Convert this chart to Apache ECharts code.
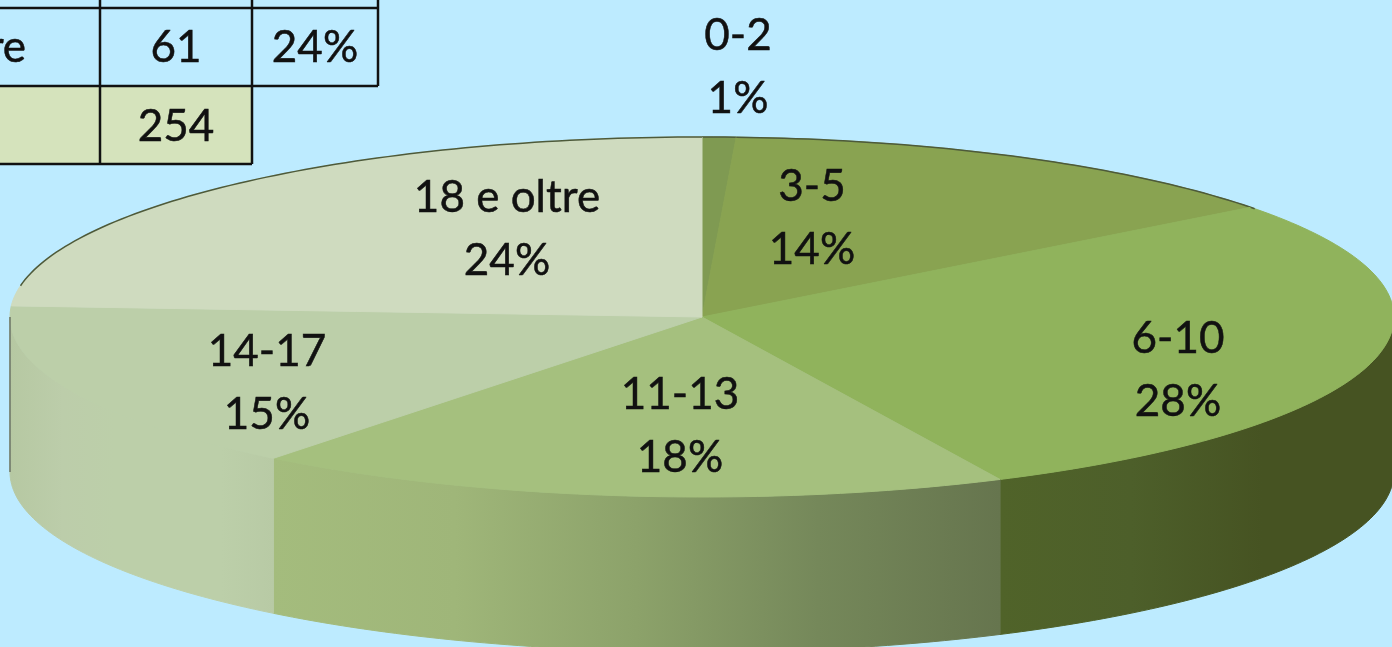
<!DOCTYPE html>
<html>
<head>
<meta charset="utf-8">
<style>
  html, body { margin: 0; padding: 0; background: #bdebff; overflow: hidden; }
  #chart { width: 1392px; height: 647px; }
</style>
</head>
<body>
<div id="chart"></div>
<script src="https://cdn.jsdelivr.net/npm/echarts@6/dist/echarts.min.js"></script>
<script>
// valori: conteggi stimati, coerenti con le percentuali e col totale 254
const ageGroups = ['0-2', '3-5', '6-10', '11-13', '14-17', '18 e oltre']
const counts = [2, 35, 72, 45, 39, 61]
const tableLastRow = ['18 e oltre', '61', '24%']
const tableTotal = '254'

const topColors = ['#7f9a52', '#89a351', '#90b35c', '#a5c07e', '#bccfa9', '#cfdbbf']
const sideColors = [
  ['#6f8745', '#6f8745'],
  ['#75893f', '#75893f'],
  ['#506329', '#4d5f2a', '#465322', '#465322'],
  ['#a4bc7d', '#9fb679', '#8ca26a', '#75885a', '#66754e'],
  ['#b6c8a2', '#bccdaa', '#bccfa9', '#bccfa9', '#bccfa9', '#b8caa5'],
  ['#b5c79f', '#b5c79f']
]

// geometria della torta
const cx = 702
const cy = 317
const rx = 692
const ry = 180
const depth = 155
const font = '44px Lato, "Open Sans", sans-serif'
const labelCenters = [[738, 67], [812, 218], [1178, 370], [680, 426], [267, 383], [507, 229]]

const total = counts.reduce((a, b) => a + b, 0)
const rimPoint = (deg, dy = 0) => {
  const a = deg * Math.PI / 180
  return [cx + rx * Math.sin(a), cy - ry * Math.cos(a) + dy]
}
const arcPoints = (from, to, dy = 0) => {
  const pts = []
  const steps = Math.max(2, Math.ceil(Math.abs(to - from)))
  for (let i = 0; i <= steps; i++) pts.push(rimPoint(from + (to - from) * i / steps, dy))
  return pts
}

const renderSlice = (params, api) => {
  const i = params.dataIndex
  const before = counts.slice(0, i).reduce((a, b) => a + b, 0)
  const start = before / total * 360
  const end = start + api.value(0) / total * 360
  const children = []

  // parete laterale, solo la metà davanti
  const wallFrom = Math.max(start, 90)
  const wallTo = Math.min(end, 270)
  if (wallFrom < wallTo) {
    const upper = arcPoints(wallFrom, wallTo)
    const lower = arcPoints(wallTo, wallFrom, depth)
    const xs = upper.map(p => p[0])
    // i colori vanno sempre da sinistra a destra
    const stops = sideColors[i].map((color, k, list) => ({ offset: k / (list.length - 1), color }))
    const wallFill = {
      type: 'linear',
      x: Math.min(...xs),
      y: 0,
      x2: Math.max(...xs),
      y2: 0,
      global: true,
      colorStops: stops
    }
    children.push({
      type: 'polygon',
      shape: { points: upper.concat(lower) },
      style: { fill: wallFill, stroke: wallFill, lineWidth: 1 }
    })
  }

  // faccia superiore
  children.push({
    type: 'polygon',
    shape: { points: [[cx, cy]].concat(arcPoints(start, end)) },
    style: { fill: topColors[i], stroke: topColors[i], lineWidth: 1 }
  })

  // bordo scuro sul retro
  const backRanges = [[start, Math.min(end, 53)], [Math.max(start, 280), end]]
  backRanges.forEach(([a, b]) => {
    if (a < b) {
      children.push({
        type: 'polyline',
        shape: { points: arcPoints(a, b) },
        style: { stroke: '#4d5a3a', lineWidth: 1.5, fill: null }
      })
    }
  })

  // spigolo sinistro della parete
  if (start < 270 && end >= 270) {
    const [x, y] = rimPoint(270)
    children.push({
      type: 'line',
      shape: { x1: x, y1: y, x2: x, y2: y + depth },
      style: { stroke: '#6b7566', lineWidth: 1.5 }
    })
  }

  return { type: 'group', children }
}

const renderLabel = (params, api) => {
  const i = params.dataIndex
  return {
    type: 'text',
    style: {
      text: ageGroups[i] + '\n' + Math.round(api.value(0) / total * 100) + '%',
      x: labelCenters[i][0],
      y: labelCenters[i][1],
      align: 'center',
      verticalAlign: 'middle',
      font,
      lineHeight: 63,
      fill: '#111',
      stroke: '#111',
      lineWidth: 0.5
    }
  }
}

const tableLine = (x1, y1, x2, y2) => ({
  type: 'line',
  shape: { x1, y1, x2, y2 },
  style: { stroke: '#111', lineWidth: 2.5 }
})
const tableText = (text, x, y, align = 'center') => ({
  type: 'text',
  style: { text, x, y, align, verticalAlign: 'middle', font, fill: '#111', stroke: '#111', lineWidth: 0.5 }
})

const option = {
  backgroundColor: '#bdebff',
  animation: false,
  tooltip: { show: false },
  graphic: {
    elements: [
      { type: 'rect', shape: { x: 0, y: 86, width: 252, height: 78 }, style: { fill: '#d5e3bc' } },
      tableLine(0, 8, 378, 8),
      tableLine(0, 86, 378, 86),
      tableLine(0, 164, 252, 164),
      tableLine(100, 0, 100, 164),
      tableLine(252, 0, 252, 164),
      tableLine(378, 0, 378, 86),
      tableText(tableLastRow[0], 26, 48, 'right'),
      tableText(tableLastRow[1], 176, 48),
      tableText(tableLastRow[2], 315, 48),
      tableText(tableTotal, 176, 127)
    ]
  },
  series: [
    {
      type: 'custom',
      coordinateSystem: 'none',
      silent: true,
      data: counts.map(v => [v]),
      renderItem: renderSlice,
      z: 2
    },
    {
      type: 'custom',
      coordinateSystem: 'none',
      silent: true,
      data: counts.map(v => [v]),
      renderItem: renderLabel,
      z: 3
    }
  ]
}

const chart = echarts.init(document.getElementById('chart'), null, { renderer: 'canvas' })
chart.setOption(option)
</script>
</body>
</html>
